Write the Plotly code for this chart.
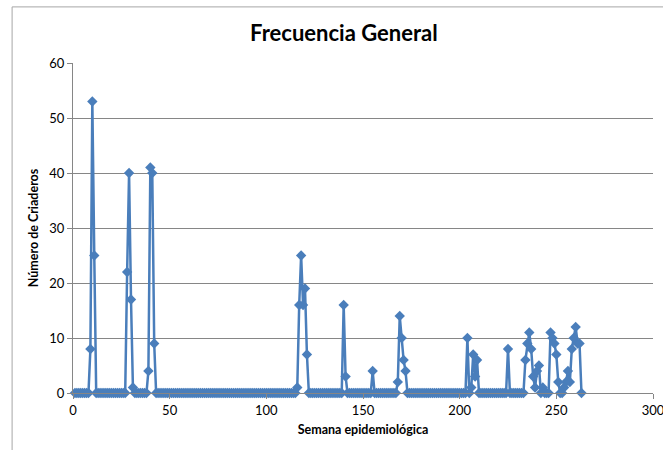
import plotly.graph_objects as go

# Weekly count of breeding sites (criaderos) per epidemiological week
semanas = list(range(1, 264))
criaderos = [
    0, 0, 0, 0, 0, 0, 0, 0, 8, 53, 25, 0, 0, 0, 0, 0, 0, 0, 0, 0,          # 1-20
    0, 0, 0, 0, 0, 0, 0, 22, 40, 17, 1, 0, 0, 0, 0, 0, 0, 0, 4, 41,        # 21-40
    40, 9, 0, 0, 0, 0, 0, 0, 0, 0, 0, 0, 0, 0, 0, 0, 0, 0, 0, 0,           # 41-60
    0, 0, 0, 0, 0, 0, 0, 0, 0, 0, 0, 0, 0, 0, 0, 0, 0, 0, 0, 0,            # 61-80
    0, 0, 0, 0, 0, 0, 0, 0, 0, 0, 0, 0, 0, 0, 0, 0, 0, 0, 0, 0,            # 81-100
    0, 0, 0, 0, 0, 0, 0, 0, 0, 0, 0, 0, 0, 0, 0, 1, 16, 25, 16, 19,        # 101-120
    7, 0, 0, 0, 0, 0, 0, 0, 0, 0, 0, 0, 0, 0, 0, 0, 0, 0, 0, 16,           # 121-140
    3, 0, 0, 0, 0, 0, 0, 0, 0, 0, 0, 0, 0, 0, 4, 0, 0, 0, 0, 0,            # 141-160
    0, 0, 0, 0, 0, 0, 0, 2, 14, 10, 6, 4, 0, 0, 0, 0, 0, 0, 0, 0,          # 161-180
    0, 0, 0, 0, 0, 0, 0, 0, 0, 0, 0, 0, 0, 0, 0, 0, 0, 0, 0, 0,            # 181-200
    0, 0, 0, 10, 0, 1, 7, 3, 6, 0, 0, 0, 0, 0, 0, 0, 0, 0, 0, 0,           # 201-220
    0, 0, 0, 0, 8, 0, 0, 0, 0, 0, 0, 0, 0, 6, 9, 11, 8, 3, 1, 4,           # 221-240
    5, 0, 1, 0, 0, 0, 11, 10, 9, 7, 2, 0, 0, 1, 2, 4, 2, 8, 10, 12,        # 241-260
    9, 9, 0,                                                               # 261-263
]

x_ticks = [0, 50, 100, 150, 200, 250, 300]
y_ticks = [0, 10, 20, 30, 40, 50, 60]

AZUL = "#4A7EBB"
GRIS = "#868686"
BORDE = "#A6A6A6"
FUENTE = "Lato"

fig = go.Figure()
fig.add_trace(go.Scatter(
    x=semanas,
    y=criaderos,
    mode="lines+markers",
    line=dict(color=AZUL, width=2.5),
    marker=dict(symbol="diamond", size=8, color=AZUL),
    showlegend=False,
    cliponaxis=False,
))

# chart-area frame: left and top edges of the outer border
marco = [
    dict(type="line", xref="paper", yref="paper",
         x0=-0.105, x1=-0.105, y0=-0.6, y1=1.17,
         line=dict(color=BORDE, width=1), layer="below"),
    dict(type="line", xref="paper", yref="paper",
         x0=-0.105, x1=1.5, y0=1.17, y1=1.17,
         line=dict(color=BORDE, width=1), layer="below"),
]

fig.update_layout(
    width=663,
    height=450,
    margin=dict(l=73, r=10, t=63, b=57),
    paper_bgcolor="white",
    plot_bgcolor="white",
    font=dict(family=FUENTE, size=13, color="#000000"),
    title=dict(
        text="<b>Frecuencia General</b>",
        x=0.467, xref="paper", xanchor="center",
        y=1 - 33 / 450, yref="container", yanchor="middle",
        font=dict(family=FUENTE, size=22, color="#000000"),
    ),
    xaxis=dict(
        range=[0, 300],
        tickvals=x_ticks,
        ticktext=[str(v) for v in x_ticks],
        showgrid=False,
        zeroline=False,
        showline=True,
        linecolor=GRIS,
        linewidth=1,
        ticks="outside",
        ticklen=5,
        tickcolor=GRIS,
        automargin=False,
        ticklabeloverflow="allow",
        tickfont=dict(family=FUENTE, size=13),
        title=dict(text="<b>Semana epidemiológica</b>",
                   font=dict(family=FUENTE, size=12.5), standoff=8),
    ),
    yaxis=dict(
        range=[0, 60],
        tickvals=y_ticks,
        ticktext=[str(v) for v in y_ticks],
        showgrid=True,
        gridcolor=GRIS,
        gridwidth=1,
        zeroline=False,
        showline=True,
        linecolor=GRIS,
        linewidth=1,
        ticks="outside",
        ticklen=5,
        tickcolor=GRIS,
        automargin=False,
        tickfont=dict(family=FUENTE, size=13),
        title=dict(text="<b>Número de Criaderos</b>",
                   font=dict(family=FUENTE, size=12.5), standoff=7),
    ),
    shapes=marco,
)

fig.write_html("out.html")
